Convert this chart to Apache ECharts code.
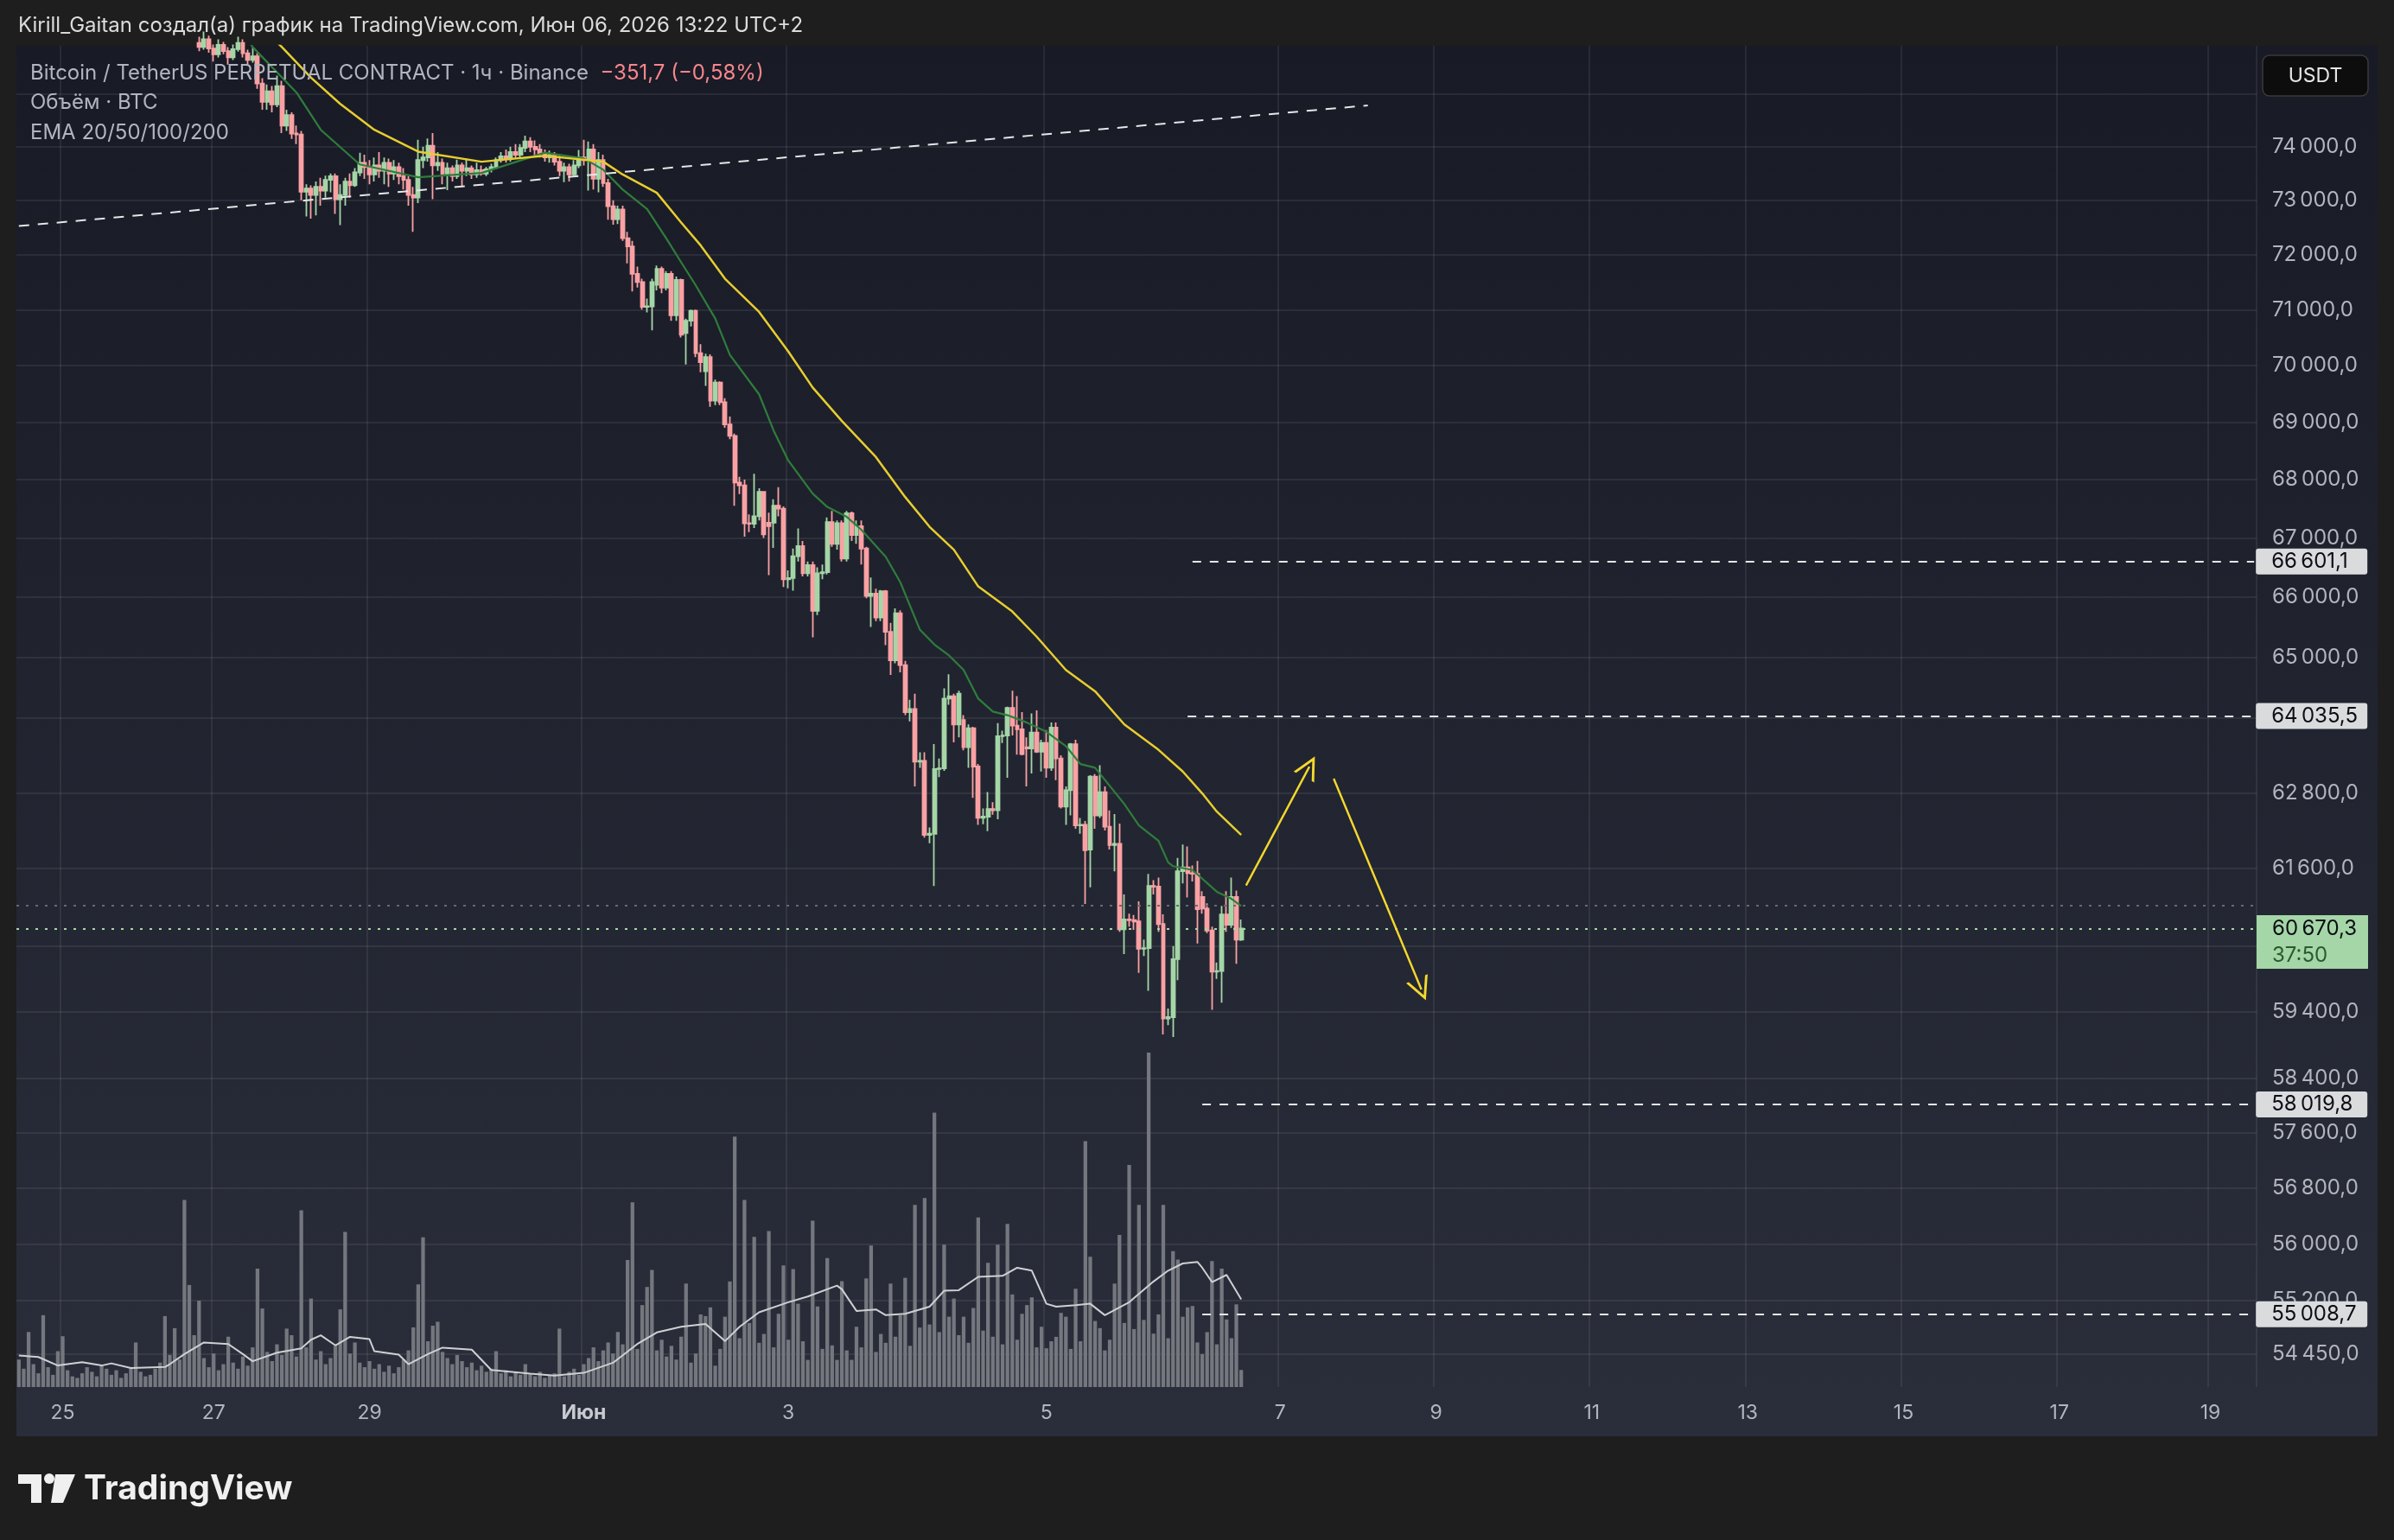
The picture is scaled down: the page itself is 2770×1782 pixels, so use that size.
<!DOCTYPE html>
<html><head><meta charset="utf-8">
<script src="https://cdn.jsdelivr.net/npm/echarts@6/dist/echarts.min.js"></script>
<style>html,body{margin:0;padding:0;background:#1e1e1e;}#c{width:2770px;height:1782px;}</style>
</head><body><div id="c"></div>
<script>
// ---------------- DATA ----------------
const opens = [
77200,77050,77180,77020,76880,76950,77100,77240,77150,76990,
76860,76920,76780,76850,76990,76900,76750,76620,76700,76810,
76690,76540,76600,76720,76650,76480,76390,76520,76440,76300,
76380,76260,76150,76230,76120,76010,76080,75980,75900,76050,
75870,75760,75940,75820,75700,75860,75980,75780,75650,75720,
75200,74850,75050,74800,75150,74400,74600,74250,74230,73160,
73220,73100,73250,73180,73380,73450,73020,73100,73350,73280,
73520,73700,73620,73480,73650,73550,73700,73500,73620,73450,
73380,73100,73050,73750,73800,74020,73650,73700,73500,73600,
73450,73650,73550,73600,73480,73560,73500,73580,73620,73750,
73820,73780,73900,73850,73980,74100,74000,73950,73880,73800,
73850,73720,73550,73620,73480,73650,73800,73750,73950,73400,
73750,73320,72890,72650,72830,72300,72150,71650,71500,71050,
71060,71450,71740,71400,71650,70900,71540,70580,70800,70980,
70220,69900,70150,69380,69700,69350,68960,68760,67950,67900,
67250,67240,67370,67790,67260,67260,67550,67500,66300,66320,
66690,66860,66400,66540,65770,66400,66420,67270,66900,67250,
66650,67420,67050,67200,66820,66020,66060,65660,66100,65420,
64950,65730,64870,64100,64150,63300,63310,62130,62150,63180,
63190,64320,64360,63900,63970,63530,63840,63220,62400,62420,
62540,62520,63710,63720,64170,63880,63820,63530,63510,63770,
63460,63600,63200,63850,63350,62580,62840,63580,62280,62290,
61900,63060,62440,62810,62260,61970,61990,60660,60810,60800,
60780,60360,60370,61330,61320,60740,59300,59320,60200,61560,
61620,61530,61520,61160,60980,60640,60010,60020,60890,60730,
61160,60500];
const highs = [
77350,77300,77260,77100,77050,77200,77320,77280,77200,77050,
77000,76960,76900,77050,77020,76950,76800,76760,76880,76840,
76720,76650,76780,76760,76700,76520,76580,76560,76480,76430,
76420,76300,76280,76260,76180,76120,76110,76100,76200,76120,
75950,76050,76000,75900,75950,76100,76050,75850,75900,75780,
75300,75180,75150,75350,75250,74700,74650,74400,74300,73300,
73280,73350,73420,73460,73500,73500,73300,73420,73500,73600,
73890,73850,73750,73800,73900,73800,73780,73750,73700,73600,
73450,73250,74130,74000,74155,74260,73900,73780,73700,73650,
73760,73700,73780,73650,73700,73650,73620,73680,73800,73900,
73950,74000,74050,74050,74210,74180,74120,74050,73950,73930,
73900,73830,73700,73680,73750,73940,74130,74100,74050,73900,
73850,73400,73000,72900,72900,72420,72250,71780,71560,71200,
71560,71800,71780,71700,71700,71600,71560,70840,71000,71000,
70380,70210,70200,69750,69720,69420,69100,68800,68050,68000,
67400,68100,67850,67800,67430,67660,67870,67540,66450,66820,
67160,66950,66600,66600,66500,66550,67350,67460,67300,67300,
67460,67450,67300,67300,66850,66330,66140,66120,66120,65570,
65810,65780,64940,64300,64400,63450,63450,62250,63580,63350,
64490,64720,64400,64450,64050,63900,63860,63260,62550,62810,
62650,63920,63800,64190,64450,64360,64100,63690,64080,64130,
63650,63810,63930,63930,63400,62900,63600,63650,62400,62350,
63080,63100,63240,62900,62520,62460,62310,61200,60900,60880,
61090,60500,61520,61420,61460,60890,59450,60400,61770,61980,
61950,61650,61720,61250,61060,60700,60150,61020,61250,61460,
61260,60810];
const lows = [
76900,76950,76900,76800,76820,76900,77000,77050,76900,76780,
76800,76700,76720,76800,76850,76700,76560,76580,76650,76620,
76480,76500,76560,76600,76420,76330,76350,76400,76250,76260,
76180,76100,76100,76080,75950,75960,75940,75820,75850,75790,
75620,75700,75760,75560,75650,75810,75700,75560,75600,75100,
74700,74700,74650,74750,74260,74300,74150,74050,73000,72700,
72660,72720,72900,73050,73150,72750,72540,72900,73050,73250,
73450,73400,73300,73350,73420,73300,73250,73380,73300,73200,
72900,72420,72950,73600,73720,73020,73550,73300,73190,73350,
73400,73250,73450,73400,73420,73460,73450,73520,73580,73700,
73700,73720,73780,73800,73900,73900,73830,73800,73720,73700,
73650,73450,73340,73350,73460,73600,73650,73180,73200,73150,
73250,72640,72550,72560,72250,71840,71330,71400,71000,70950,
70630,71350,71300,71350,70800,70800,70500,70020,70700,70150,
69880,69640,69270,69300,69300,68900,68700,67550,67750,67020,
67100,67170,67300,67000,66370,66830,67370,66170,66150,66110,
66600,66350,66350,65330,65700,66300,66380,66850,66800,66600,
66600,66950,66900,66550,65980,65500,65600,65600,65200,64710,
64900,64750,64050,63950,62900,63200,62090,62000,61330,63050,
63150,64220,63610,63690,63480,63200,62720,62290,62300,62190,
62450,62380,63600,63040,63720,63410,63400,62900,63110,63440,
63140,63040,63150,63000,62550,62290,62440,62230,62150,61050,
61310,62230,62400,62200,61900,61560,60620,60280,60700,60650,
59990,60250,59720,61200,60620,59060,59200,59020,59880,61370,
61150,61400,60440,60900,60600,59430,59900,59540,60620,60680,
60130,60480];
const closes = [
77050,77180,77020,76880,76950,77100,77240,77150,76990,76860,
76920,76780,76850,76990,76900,76750,76620,76700,76810,76690,
76540,76600,76720,76650,76480,76390,76520,76440,76300,76380,
76260,76150,76230,76120,76010,76080,75980,75900,76050,75870,
75760,75940,75820,75700,75860,75980,75780,75650,75720,75200,
74850,75050,74800,75150,74400,74600,74250,74230,73160,73220,
73100,73250,73180,73380,73450,73020,73100,73350,73280,73520,
73700,73620,73480,73650,73550,73700,73500,73620,73450,73380,
73100,73050,73750,73800,74020,73650,73700,73500,73600,73450,
73650,73550,73600,73480,73560,73500,73580,73620,73750,73820,
73780,73900,73850,73980,74100,74000,73950,73880,73800,73850,
73720,73550,73620,73480,73650,73800,73750,73950,73400,73750,
73320,72890,72650,72830,72300,72150,71650,71500,71050,71060,
71500,71740,71400,71650,70900,71540,70550,70800,70980,70220,
70060,70150,69380,69700,69350,68960,68760,67950,67900,67250,
67240,67370,67790,67060,67200,67550,67500,66300,66320,66690,
66860,66400,66540,65770,66400,66420,67270,66900,67250,66650,
67420,67050,67200,66820,66020,66060,65660,66100,65420,64950,
65730,64870,64100,64150,63300,63310,62130,62150,63180,63190,
64320,64360,63900,64400,63530,63840,63220,62400,62420,62540,
62520,63710,63720,64170,63880,63820,63420,63510,63770,63460,
63600,63200,63850,63350,62580,62840,63580,62280,62290,61890,
63060,62440,62810,62260,61970,61990,60660,60810,60800,60780,
60360,60370,61330,61320,60740,59300,59320,60200,61560,61620,
61530,61520,60970,60980,60640,60010,60020,60890,60730,61160,
60500,60670.3];
const volumes = [
1800,1200,3610,1500,900,4710,1300,800,2350,3330,
1100,700,600,900,1300,1000,700,1400,1200,800,
1100,600,900,1300,2920,1000,700,800,1200,1600,
4650,2100,3860,1800,12260,6690,3400,5660,1900,1300,
2200,1100,1500,3300,1600,1200,2000,1400,2600,7760,
5150,2300,1700,2800,2100,3830,3400,2000,11580,2600,
5800,1800,2350,1500,1900,2700,5090,10160,2200,2920,
1600,1300,1700,1200,1500,1000,1400,900,1300,1800,
2400,3910,6730,9820,3000,4020,4280,2300,1900,1500,
2100,1700,1300,1600,1100,1400,1000,1200,2350,900,
1100,700,1000,800,1500,900,700,1000,600,800,
900,3830,700,1000,1200,800,1500,1900,2600,1700,
2400,2920,2200,3610,2800,8330,12110,2500,5370,6560,
7670,2400,3100,2000,2700,1800,3300,6780,1600,2200,
4760,4650,5220,1400,2500,4610,6920,16410,3200,12260,
4200,9840,2900,3480,10220,2600,4800,7970,3100,7730,
5460,3000,1780,10900,5280,2500,8460,2730,1780,6940,
2400,1780,3950,2600,7120,9270,2300,3480,2900,6780,
3300,4710,7160,2700,11940,3900,12390,4100,17990,3600,
9330,4610,5800,3400,4610,2900,5180,11120,3700,8140,
3300,9330,2800,10690,6070,3100,4800,5370,5880,2600,
3950,2540,3000,3290,4860,4610,2500,6440,3000,16120,
8540,4330,3860,2400,3100,6780,9970,4200,14560,3800,
11940,4400,21920,3500,4760,11940,3200,8900,8350,4610,
5220,5310,2920,2160,3600,8260,2800,7760,4430,3200,
5420,1120];
// EMA 20 (green) and EMA 50 (yellow): [bar index, price]
const ema20Points = [[43,76660],[48,75900],[57,75030],[62,74320],[70,73670],[82,73430],[95,73510],[108,73890],[116,73780],[120,73570],[124,73200],[129,72840],[133,72290],[136,71860],[139,71440],[143,70840],[146,70190],[152,69490],[155,68850],[158,68330],[163,67760],[166,67530],[170,67360],[173,67140],[178,66680],[181,66250],[185,65460],[188,65210],[191,65030],[194,64790],[197,64320],[200,64110],[203,64050],[207,63930],[211,63780],[215,63550],[218,63260],[221,63200],[224,62910],[227,62620],[230,62280],[234,62040],[236,61700],[237,61640],[241,61580],[246,61240],[249,61130],[251,61020]];
const ema50Points = [[49,76360],[54,75900],[60,75310],[66,74810],[73,74320],[82,73910],[95,73720],[108,73830],[120,73720],[124,73480],[131,73140],[136,72590],[140,72170],[145,71560],[152,70960],[158,70250],[163,69610],[169,69020],[176,68390],[182,67700],[187,67190],[192,66800],[197,66180],[204,65760],[209,65340],[215,64790],[221,64440],[227,63900],[234,63490],[239,63140],[243,62790],[246,62500],[251,62130]];
// Volume moving average (white line): [bar index, volume]
const volMaPoints = [[0,2070],[4,1970],[8,1410],[13,1630],[17,1410],[19,1550],[23,1250],[30,1310],[31,1500],[34,2160],[38,2920],[43,2820],[46,2160],[48,1690],[53,2250],[58,2540],[60,3100],[62,3390],[65,2730],[68,3290],[72,3140],[73,2350],[78,2120],[80,1500],[84,2160],[87,2580],[93,2450],[97,1120],[105,880],[110,750],[116,930],[122,1590],[127,2820],[131,3580],[136,3950],[141,4140],[145,3010],[148,3950],[152,4900],[158,5560],[162,5930],[168,6650],[169,6410],[172,4990],[176,5090],[178,4710],[182,4800],[187,5270],[190,6310],[193,6350],[197,7220],[202,7290],[205,7820],[208,7630],[211,5460],[213,5270],[217,5370],[220,5460],[223,4710],[228,5560],[233,6920],[236,7630],[239,8100],[242,8200],[243,7820],[245,6880],[248,7350],[251,5750]];
// drawings
const trendLine = [[0,72525],[277,74782]];
const arrowUp = [[252,61338],[265,63218]];
const arrowDown = [[270,63025],[288,59739]];
const levelPrices = [66601.1, 64035.5, 58019.8, 55008.7];
const levelStarts = [241, 240, 243, 243];
const lastPrice = 60670.3;
const prevClose = 61022.0;
const countdown = '37:50';
// axes
const barCount = 460;
const tickIndex = [9,40,72,116,158,211,259,291,323,355,387,419,450];
const tickText = ['25','27','29','Июн','3','5','7','9','11','13','15','17','19'];
const priceLabelValues = [74000,73000,72000,71000,70000,69000,68000,67000,66000,65000,62800,61600,59400,58400,57600,56800,56000,55200,54450];
const priceGridValues = [75000,74000,73000,72000,71000,70000,69000,68000,67000,66000,65000,64000,62800,61600,60400,59400,58400,57600,56800,56000,55200,54450];
const priceMin = 54000, priceMax = 75923;
const volMax = 21920;

// ---------------- CHART ----------------
const FONT = 'Inter, "Noto Sans", sans-serif';
const categories = Array.from({length: barCount}, (_, i) => String(i));
const tickMap = {}; tickIndex.forEach((ix, k) => tickMap[ix] = tickText[k]);
function fmtNum(v, dec) {
  const s = v.toFixed(dec); const parts = s.split('.');
  const ip = parts[0].replace(/\B(?=(\d{3})+(?!\d))/g, '\u2009');
  return ip + ',' + (parts[1] || '0');
}
const candleData = opens.map((o, i) => [o, closes[i], lows[i], highs[i]]);
const chart = echarts.init(document.getElementById('c'), null, {width: 2770, height: 1782});

const CHEVRON = 'path://M50,0 L100,100 L88,100 L50,24 L12,100 L0,100 Z';
const boxRich = {
  v: {backgroundColor: '#dadbdd', color: '#0b0e14', fontSize: 24, fontFamily: FONT, width: 102, height: 30, lineHeight: 30, padding: [0, 9, 0, 18], borderRadius: 3}
};
const levelLines = levelPrices.map((p, k) => [
  {coord: [levelStarts[k], p], lineStyle: {color: '#e6e6e6', width: 2, type: [10, 10]},
   label: {show: true, position: 'end', distance: 2, formatter: '{v|' + fmtNum(p, 1) + '}', rich: boxRich}},
  {coord: [barCount - 1, p]}
]);
const arrowItem = (pts) => [
  {coord: pts[0], symbol: 'none', symbolSize: 0},
  {coord: pts[1], symbol: CHEVRON, symbolSize: 27}
];

const option = {
  backgroundColor: '#1e1e1e',
  animation: false,
  graphic: [
    {type: 'rect', z: -10, silent: true, shape: {x: 19, y: 53, width: 2732, height: 1609},
     style: {fill: {type: 'linear', x: 0, y: 0, x2: 0, y2: 1, colorStops: [{offset: 0, color: '#181b26'}, {offset: 1, color: '#2a2e3a'}]}}},
    {type: 'text', z: 10, x: 21, y: 30, style: {text: 'Kirill_Gaitan создал(а) график на TradingView.com, Июн 06, 2026 13:22 UTC+2', fill: '#dcdcdc', font: '24px ' + FONT, verticalAlign: 'middle'}},
    {type: 'text', z: 10, x: 35, y: 85, style: {text: '{a|Bitcoin / TetherUS PERPETUAL CONTRACT · 1ч · Binance}{b|  \u2212351,7 (\u22120,58%)}', verticalAlign: 'middle',
      rich: {a: {fill: '#b2b5be', fontSize: 24, fontFamily: FONT}, b: {fill: '#f7868c', fontSize: 24, fontFamily: FONT}}}},
    {type: 'text', z: 10, x: 35, y: 119, style: {text: 'Объём · BTC', fill: '#b2b5be', font: '24px ' + FONT, verticalAlign: 'middle'}},
    {type: 'text', z: 10, x: 35, y: 154, style: {text: 'EMA 20/50/100/200', fill: '#b2b5be', font: '24px ' + FONT, verticalAlign: 'middle'}},
    {type: 'rect', z: 10, shape: {x: 2618, y: 64, width: 122, height: 47, r: 8}, style: {fill: '#0d0d0d', stroke: '#3a3a3a', lineWidth: 1.5}},
    {type: 'text', z: 11, x: 2679, y: 88, style: {text: 'USDT', fill: '#e6e6e6', font: '23px ' + FONT, align: 'center', verticalAlign: 'middle'}},
    {type: 'rect', z: 10, shape: {x: 21, y: 1706, width: 27, height: 11}, style: {fill: '#f0f0f0'}},
    {type: 'rect', z: 10, shape: {x: 36, y: 1706, width: 12, height: 33}, style: {fill: '#f0f0f0'}},
    {type: 'circle', z: 10, shape: {cx: 57, cy: 1711, r: 6}, style: {fill: '#f0f0f0'}},
    {type: 'polygon', z: 10, shape: {points: [[64, 1706], [87, 1706], [73, 1739], [59, 1739]]}, style: {fill: '#f0f0f0'}},
    {type: 'text', z: 10, x: 97, y: 1723, style: {text: 'TradingView', fill: '#f0f0f0', font: 'bold 39px ' + FONT, verticalAlign: 'middle'}}
  ],
  grid: [
    {left: 19, right: 159, top: 53, bottom: 177},
    {left: 19, right: 159, top: 1218, bottom: 177}
  ],
  xAxis: [
    {type: 'category', data: categories, gridIndex: 0, boundaryGap: true,
     axisLine: {show: false}, axisTick: {show: false},
     axisLabel: {interval: (i) => tickMap[i] !== undefined,
       formatter: (v, i) => tickMap[i] === 'Июн' ? '{b|Июн}' : (tickMap[i] || ''),
       color: '#b2b5be', fontSize: 23, fontFamily: FONT, margin: 19,
       rich: {b: {color: '#c8cad0', fontSize: 23, fontFamily: FONT, fontWeight: 'bold'}}},
     splitLine: {show: true, interval: (i) => tickMap[i] !== undefined, lineStyle: {color: 'rgba(255,255,255,0.07)', width: 2}}},
    {type: 'category', data: categories, gridIndex: 1, show: false, boundaryGap: true}
  ],
  yAxis: [
    {type: 'log', logBase: 10, min: priceMin, max: priceMax, position: 'right', gridIndex: 0,
     axisLine: {show: false}, axisTick: {show: false, customValues: priceGridValues},
     axisLabel: {customValues: priceLabelValues, formatter: (v) => fmtNum(Number(v), 1), color: '#b2b5be', fontSize: 24, fontFamily: FONT, margin: 18},
     splitLine: {show: true, lineStyle: {color: 'rgba(255,255,255,0.07)', width: 2}}},
    {type: 'value', gridIndex: 1, min: 0, max: volMax, show: false, splitLine: {show: false}}
  ],
  series: [
    {type: 'bar', name: 'Volume', xAxisIndex: 1, yAxisIndex: 1, data: volumes, barWidth: '76%',
     itemStyle: {color: '#74777e'}, silent: true, z: 1},
    {type: 'line', name: 'Volume MA', xAxisIndex: 1, yAxisIndex: 1, data: volMaPoints, showSymbol: false,
     lineStyle: {color: '#cfd0d3', width: 2}, silent: true, z: 1},
    {type: 'candlestick', name: 'BTCUSDT', data: candleData, barWidth: '78%',
     itemStyle: {color: '#a5d6a7', color0: '#faa1a4', borderColor: '#a5d6a7', borderColor0: '#faa1a4', borderWidth: 1.8},
     silent: true, z: 3,
     markLine: {silent: true, symbol: ['none', 'none'], animation: false,
       data: [
         {yAxis: prevClose, lineStyle: {color: '#666a75', width: 2, type: [3, 8]}, label: {show: false}},
         {yAxis: lastPrice, lineStyle: {color: '#a5d6a7', width: 2, type: [3, 8]},
          label: {show: true, position: 'end', distance: 0,
            formatter: '{e| }\n{p|' + fmtNum(lastPrice, 1) + '}\n{t|' + countdown + '}',
            rich: {
              e: {height: 31, lineHeight: 31, fontSize: 10},
              p: {backgroundColor: '#a5d6a7', color: '#0b0e14', fontSize: 24, fontFamily: FONT, width: 102, height: 31, lineHeight: 31, padding: [0, 9, 0, 18]},
              t: {backgroundColor: '#a5d6a7', color: '#2c5a30', fontSize: 24, fontFamily: FONT, width: 102, height: 31, lineHeight: 31, padding: [0, 9, 0, 18]}
            }}}
       ].concat(levelLines)}},
    {type: 'line', name: 'EMA 20', data: ema20Points, showSymbol: false, lineStyle: {color: '#2f7d3b', width: 2.2}, silent: true, z: 4},
    {type: 'line', name: 'EMA 50', data: ema50Points, showSymbol: false, lineStyle: {color: '#e8cd2e', width: 2.5}, silent: true, z: 4},
    {type: 'line', name: 'Trend', data: trendLine, showSymbol: false, lineStyle: {color: '#e6e6e6', width: 2, type: [12, 10]}, silent: true, z: 5,
     markLine: {silent: true, animation: false, symbol: ['none', CHEVRON], symbolSize: 27,
       lineStyle: {color: '#f5d82e', width: 2.4, type: 'solid'}, itemStyle: {color: '#f5d82e'}, label: {show: false},
       data: [arrowItem(arrowUp), arrowItem(arrowDown)]}}
  ]
};
chart.setOption(option);
</script>
</body></html>
